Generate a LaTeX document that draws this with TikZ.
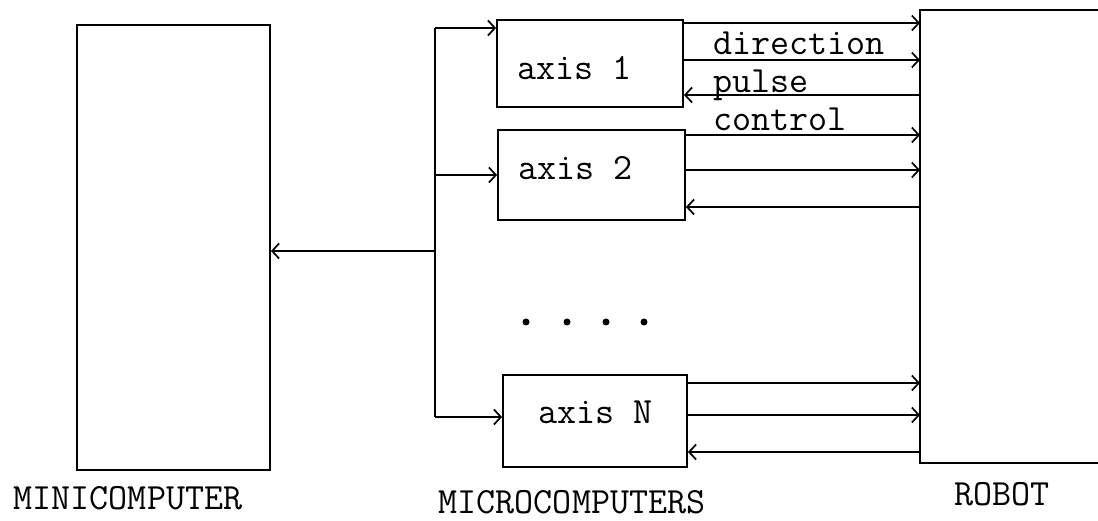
\documentclass[tikz,border=0pt]{standalone}
\usepackage{fontspec}
\usetikzlibrary{arrows.meta}
\tikzset{
  box/.style={draw, line width=1.8pt, inner sep=0pt, minimum width=#1},
  lbl/.style={inner sep=0pt, font=\ttfamily\fontsize{37}{40}\selectfont},
  conn/.style={line width=1.7pt, -{Straight Barb[length=7pt,width=15pt,line width=1.7pt]}},
  wire/.style={line width=1.7pt}
}
\begin{document}
\begin{tikzpicture}[x=1pt,y=-1pt]
\useasboundingbox (0,0) rectangle (1098,521);
% boxes
\node[box=193pt, minimum height=445pt] (mini) at (173.5,247.5) {};
\node[box=186pt, minimum height=87pt] (a1) at (590,63.5) {};
\node[box=187pt, minimum height=90pt] (a2) at (591.5,175) {};
\node[box=184pt, minimum height=92pt] (aN) at (595,421) {};
\node[inner sep=0pt, minimum width=200pt, minimum height=453pt, anchor=west] (robot) at (920,236.5) {};
\draw[wire, line width=1.8pt] ([xshift=200pt]robot.north west) -- (robot.north west) -- (robot.south west) -- ([xshift=200pt]robot.south west);
% box texts
\node[lbl, anchor=west] (t1) at (517,68) {axis 1};
\node[lbl, anchor=west] (t2) at (518,168) {axis 2};
\node[lbl, anchor=west] (tN) at (538,412) {axis N};
% bus
\coordinate (busT) at (435,28);
\coordinate (busB) at (435,417);
\draw[wire] (busT) -- (busB);
\draw[conn] (busT) -- (a1.west |- busT);
\draw[conn] (busT |- a2) -- (a2.west);
\draw[conn] (busB) -- (aN.west |- busB);
\draw[conn] (busT |- 0,251) -- (mini.east |- 0,251);
% axis 1 lines
\draw[conn] (a1.east |- 0,23) -- (robot.west |- 0,23);
\draw[conn] (a1.east |- 0,60) -- (robot.west |- 0,60);
\draw[conn] (robot.west |- 0,95) -- (a1.east |- 0,95);
% axis 2 lines
\draw[conn] (a2.east |- 0,135) -- (robot.west |- 0,135);
\draw[conn] (a2.east |- 0,170) -- (robot.west |- 0,170);
\draw[conn] (robot.west |- 0,207) -- (a2.east |- 0,207);
% axis N lines
\draw[conn] (aN.east |- 0,383) -- (robot.west |- 0,383);
\draw[conn] (aN.east |- 0,415) -- (robot.west |- 0,415);
\draw[conn] (robot.west |- 0,452) -- (aN.east |- 0,452);
% signal labels
\node[lbl, anchor=west] (ldir) at (713,43) {direction};
\node[lbl, anchor=west] (lpul) at (713,85) {pulse};
\node[lbl, anchor=west] (lcon) at (713,119) {control};
% dots
\foreach \x [count=\i] in {526,567,606,644} \fill (\x,322) circle (3.5pt) coordinate (d\i);
% titles
\node[lbl] (tmini) at (128,498) {MINICOMPUTER};
\node[lbl] (tmicro) at (572,502) {MICROCOMPUTERS};
\node[lbl] (trobot) at (1002,494) {ROBOT};
\end{tikzpicture}
\end{document}
